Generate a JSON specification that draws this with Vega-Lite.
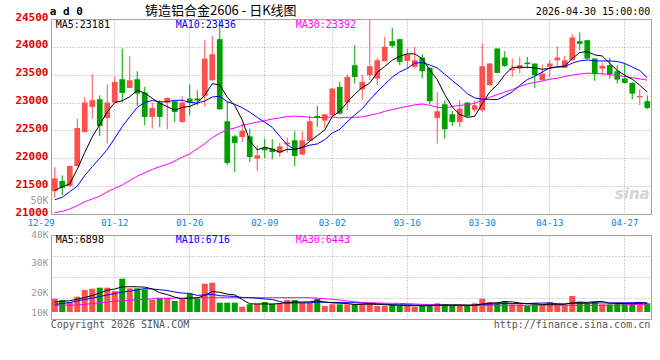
{
"$schema": "https://vega.github.io/schema/vega-lite/v6.json",
"background": "white",
"padding": {"left": 14, "top": 4, "right": 0, "bottom": 0},
"bounds": "flush",
"spacing": 21,
"config": {
  "view": {"stroke": "#a0a0a0", "strokeWidth": 1},
  "axis": {"domain": false, "ticks": false, "tickSize": 0, "title": null, "labelFont": "DejaVu Sans Mono", "gridColor": "#a8a8a8", "gridDash": [1, 2], "gridWidth": 1},
  "text": {"font": "DejaVu Sans Mono"}
},
"datasets": {
"k": [
{"d":"12-29","o":21410,"h":21840,"l":21290,"c":21640,"m5":21425,"m10":21255,"m30":21020,"v":10640,"vm5":8000,"vm10":6160,"vm30":5360},
{"d":"12-30","o":21593,"h":21694,"l":21335,"c":21473,"m5":21485,"m10":21300,"m30":21050,"v":9600,"vm5":8560,"vm10":6800,"vm30":5440},
{"d":"12-31","o":21503,"h":21870,"l":21490,"c":21862,"m5":21544,"m10":21400,"m30":21090,"v":8000,"vm5":9040,"vm10":7600,"vm30":5520},
{"d":"01-05","o":21862,"h":22712,"l":21850,"c":22545,"m5":21803,"m10":21500,"m30":21150,"v":12240,"vm5":10160,"vm10":8800,"vm30":5600},
{"d":"01-06","o":22473,"h":23101,"l":22460,"c":23000,"m5":22104,"m10":21690,"m30":21220,"v":17600,"vm5":11600,"vm10":10000,"vm30":6160},
{"d":"01-07","o":22922,"h":23503,"l":22712,"c":23042,"m5":22384,"m10":21850,"m30":21270,"v":18640,"vm5":13200,"vm10":11200,"vm30":6800},
{"d":"01-08","o":23060,"h":23131,"l":22401,"c":22581,"m5":22606,"m10":22000,"m30":21320,"v":19440,"vm5":15200,"vm10":12400,"vm30":7440},
{"d":"01-09","o":22724,"h":23329,"l":22263,"c":23000,"m5":22834,"m10":22160,"m30":21400,"v":19440,"vm5":17440,"vm10":13600,"vm30":8000},
{"d":"01-12","o":23000,"h":23461,"l":22990,"c":23371,"m5":22999,"m10":22360,"m30":21460,"v":16800,"vm5":18400,"vm10":14800,"vm30":8640},
{"d":"01-13","o":23419,"h":23970,"l":23000,"c":23173,"m5":23033,"m10":22569,"m30":21520,"v":26640,"vm5":20160,"vm10":15920,"vm30":8960},
{"d":"01-14","o":23263,"h":23832,"l":23260,"c":23401,"m5":23105,"m10":22745,"m30":21600,"v":18960,"vm5":20240,"vm10":16720,"vm30":9360},
{"d":"01-15","o":23419,"h":23563,"l":22940,"c":23161,"m5":23221,"m10":22914,"m30":21680,"v":18960,"vm5":20160,"vm10":17680,"vm30":9760},
{"d":"01-16","o":23179,"h":23281,"l":22592,"c":22742,"m5":23170,"m10":23002,"m30":21740,"v":18160,"vm5":19920,"vm10":18720,"vm30":10160},
{"d":"01-19","o":22742,"h":23000,"l":22532,"c":22904,"m5":23076,"m10":23038,"m30":21800,"v":9600,"vm5":18480,"vm10":18400,"vm30":10480},
{"d":"01-20","o":23000,"h":23042,"l":22562,"c":22742,"m5":22990,"m10":23012,"m30":21850,"v":11440,"vm5":15440,"vm10":17840,"vm30":10720},
{"d":"01-21","o":23000,"h":23090,"l":22521,"c":23084,"m5":22927,"m10":23016,"m30":21890,"v":11440,"vm5":13920,"vm10":17120,"vm30":10960},
{"d":"01-22","o":23024,"h":23030,"l":22652,"c":22832,"m5":22861,"m10":23041,"m30":21950,"v":8800,"vm5":11920,"vm10":16000,"vm30":11120},
{"d":"01-23","o":22652,"h":23113,"l":22640,"c":23000,"m5":22912,"m10":23041,"m30":22020,"v":10160,"vm5":10320,"vm10":15120,"vm30":11200},
{"d":"01-26","o":23072,"h":23323,"l":22772,"c":23000,"m5":22932,"m10":23004,"m30":22080,"v":14640,"vm5":11280,"vm10":14880,"vm30":11360},
{"d":"01-27","o":23072,"h":23221,"l":22952,"c":23036,"m5":22990,"m10":22990,"m30":22170,"v":10640,"vm5":11120,"vm10":13280,"vm30":11440},
{"d":"01-28","o":23114,"h":24120,"l":22922,"c":23790,"m5":23132,"m10":23029,"m30":22260,"v":22640,"vm5":13360,"vm10":13680,"vm30":11440},
{"d":"01-29","o":23401,"h":24198,"l":23390,"c":23868,"m5":23339,"m10":23100,"m30":22370,"v":23440,"vm5":16320,"vm10":14080,"vm30":11440},
{"d":"01-30","o":24138,"h":24480,"l":22870,"c":22880,"m5":23315,"m10":23114,"m30":22450,"v":7440,"vm5":15760,"vm10":13040,"vm30":11440},
{"d":"02-02","o":22664,"h":23012,"l":21880,"c":21916,"m5":23098,"m10":23015,"m30":22510,"v":7440,"vm5":14320,"vm10":12800,"vm30":11440},
{"d":"02-03","o":22395,"h":22420,"l":21754,"c":22275,"m5":22946,"m10":22968,"m30":22545,"v":7440,"vm5":13680,"vm10":12400,"vm30":11440},
{"d":"02-04","o":22383,"h":22622,"l":22293,"c":22491,"m5":22686,"m10":22909,"m30":22590,"v":4240,"vm5":10000,"vm10":11680,"vm30":11440},
{"d":"02-05","o":22395,"h":22533,"l":21933,"c":22023,"m5":22317,"m10":22828,"m30":22620,"v":6160,"vm5":6560,"vm10":11440,"vm30":11440},
{"d":"02-06","o":21993,"h":22233,"l":21772,"c":22053,"m5":22152,"m10":22733,"m30":22650,"v":6640,"vm5":6400,"vm10":11040,"vm30":11440},
{"d":"02-09","o":22191,"h":22353,"l":22005,"c":22143,"m5":22197,"m10":22648,"m30":22675,"v":8000,"vm5":6480,"vm10":10400,"vm30":11440},
{"d":"02-10","o":22173,"h":22341,"l":21982,"c":22113,"m5":22165,"m10":22555,"m30":22705,"v":6640,"vm5":6320,"vm10":10000,"vm30":11440},
{"d":"02-11","o":22101,"h":22275,"l":22023,"c":22215,"m5":22109,"m10":22398,"m30":22724,"v":6640,"vm5":6800,"vm10":8400,"vm30":11440},
{"d":"02-12","o":22250,"h":22371,"l":22101,"c":22280,"m5":22161,"m10":22239,"m30":22751,"v":9600,"vm5":7520,"vm10":7040,"vm30":11440},
{"d":"02-13","o":22323,"h":22485,"l":21862,"c":22041,"m5":22158,"m10":22155,"m30":22757,"v":9600,"vm5":8080,"vm10":7280,"vm30":11440},
{"d":"02-24","o":22065,"h":22485,"l":22060,"c":22323,"m5":22194,"m10":22196,"m30":22749,"v":7440,"vm5":8000,"vm10":7280,"vm30":11440},
{"d":"02-25","o":22311,"h":22760,"l":22300,"c":22664,"m5":22305,"m10":22235,"m30":22738,"v":7440,"vm5":8160,"vm10":7280,"vm30":11440},
{"d":"02-26","o":22760,"h":22940,"l":22562,"c":22724,"m5":22406,"m10":22258,"m30":22728,"v":10640,"vm5":8960,"vm10":7920,"vm30":11040},
{"d":"02-27","o":22676,"h":22795,"l":22550,"c":22790,"m5":22508,"m10":22335,"m30":22735,"v":4800,"vm5":8000,"vm10":7760,"vm30":10560},
{"d":"03-02","o":22772,"h":23263,"l":22742,"c":23251,"m5":22750,"m10":22454,"m30":22743,"v":6160,"vm5":7280,"vm10":7680,"vm30":10160},
{"d":"03-03","o":23281,"h":23371,"l":22784,"c":22802,"m5":22846,"m10":22520,"m30":22724,"v":6160,"vm5":7040,"vm10":7520,"vm30":9600},
{"d":"03-04","o":23000,"h":23503,"l":22862,"c":23461,"m5":23006,"m10":22655,"m30":22734,"v":6160,"vm5":6800,"vm10":7440,"vm30":8800},
{"d":"03-05","o":23671,"h":24030,"l":23341,"c":23461,"m5":23153,"m10":22780,"m30":22736,"v":6160,"vm5":5920,"vm10":7440,"vm30":8240},
{"d":"03-06","o":23239,"h":23503,"l":23054,"c":23371,"m5":23269,"m10":22889,"m30":22743,"v":6160,"vm5":6160,"vm10":7040,"vm30":7600},
{"d":"03-09","o":23491,"h":24479,"l":23401,"c":23653,"m5":23350,"m10":23050,"m30":22773,"v":6960,"vm5":6320,"vm10":6800,"vm30":7440},
{"d":"03-10","o":23431,"h":23802,"l":23311,"c":23760,"m5":23541,"m10":23194,"m30":22801,"v":4800,"vm5":6080,"vm10":6560,"vm30":7200},
{"d":"03-11","o":23742,"h":24180,"l":23740,"c":24000,"m5":23649,"m10":23327,"m30":22843,"v":4800,"vm5":5760,"vm10":6320,"vm30":7040},
{"d":"03-12","o":24102,"h":24341,"l":23982,"c":24018,"m5":23760,"m10":23457,"m30":22874,"v":5600,"vm5":5680,"vm10":5760,"vm30":6960},
{"d":"03-13","o":24138,"h":24140,"l":23671,"c":23730,"m5":23832,"m10":23551,"m30":22904,"v":4800,"vm5":5360,"vm10":5760,"vm30":6880},
{"d":"03-16","o":23748,"h":23970,"l":23611,"c":23862,"m5":23874,"m10":23612,"m30":22933,"v":5600,"vm5":5120,"vm10":5760,"vm30":6640},
{"d":"03-17","o":23641,"h":24000,"l":23611,"c":23760,"m5":23874,"m10":23708,"m30":22958,"v":4240,"vm5":5040,"vm10":5520,"vm30":6400},
{"d":"03-18","o":23808,"h":23868,"l":23431,"c":23563,"m5":23787,"m10":23718,"m30":22976,"v":4800,"vm5":5040,"vm10":5360,"vm30":6160},
{"d":"03-19","o":23623,"h":23630,"l":22964,"c":23024,"m5":23588,"m10":23674,"m30":22951,"v":5600,"vm5":5040,"vm10":5360,"vm30":6000},
{"d":"03-20","o":22724,"h":23191,"l":22263,"c":22844,"m5":23411,"m10":23621,"m30":22916,"v":6960,"vm5":5440,"vm10":5440,"vm30":5840},
{"d":"03-23","o":22970,"h":23042,"l":22353,"c":22521,"m5":23142,"m10":23508,"m30":22904,"v":6160,"vm5":5520,"vm10":5360,"vm30":5600},
{"d":"03-24","o":22790,"h":22850,"l":22580,"c":22652,"m5":22921,"m10":23397,"m30":22929,"v":4800,"vm5":5680,"vm10":5360,"vm30":5440},
{"d":"03-25","o":22652,"h":23042,"l":22562,"c":22892,"m5":22787,"m10":23287,"m30":22950,"v":4800,"vm5":5680,"vm10":5360,"vm30":5360},
{"d":"03-26","o":23000,"h":23010,"l":22742,"c":22760,"m5":22734,"m10":23161,"m30":22958,"v":4800,"vm5":5520,"vm10":5280,"vm30":5360},
{"d":"03-27","o":22870,"h":23042,"l":22832,"c":22950,"m5":22755,"m10":23083,"m30":22989,"v":6960,"vm5":5520,"vm10":5440,"vm30":5360},
{"d":"03-30","o":22862,"h":24060,"l":22832,"c":23653,"m5":22981,"m10":23062,"m30":23043,"v":10640,"vm5":6400,"vm10":6000,"vm30":5360},
{"d":"03-31","o":23311,"h":23705,"l":23305,"c":23701,"m5":23191,"m10":23056,"m30":23095,"v":8000,"vm5":7040,"vm10":6320,"vm30":5360},
{"d":"04-01","o":23970,"h":23975,"l":23530,"c":23533,"m5":23319,"m10":23053,"m30":23142,"v":6960,"vm5":7440,"vm10":6560,"vm30":5360},
{"d":"04-02","o":23808,"h":23922,"l":23641,"c":23659,"m5":23499,"m10":23117,"m30":23190,"v":8800,"vm5":8240,"vm10":6880,"vm30":5360},
{"d":"04-03","o":23581,"h":23790,"l":23461,"c":23611,"m5":23631,"m10":23193,"m30":23234,"v":6160,"vm5":8080,"vm10":6800,"vm30":5360},
{"d":"04-07","o":23611,"h":23820,"l":23521,"c":23671,"m5":23635,"m10":23308,"m30":23289,"v":6160,"vm5":7200,"vm10":6800,"vm30":5360},
{"d":"04-08","o":23718,"h":23820,"l":23611,"c":23689,"m5":23633,"m10":23412,"m30":23334,"v":4800,"vm5":6560,"vm10":6800,"vm30":5360},
{"d":"04-09","o":23700,"h":23705,"l":23263,"c":23491,"m5":23624,"m10":23472,"m30":23362,"v":6960,"vm5":6560,"vm10":7040,"vm30":5360},
{"d":"04-10","o":23401,"h":23683,"l":23395,"c":23521,"m5":23597,"m10":23548,"m30":23388,"v":5360,"vm5":5920,"vm10":7120,"vm30":5360},
{"d":"04-13","o":23641,"h":23760,"l":23461,"c":23700,"m5":23614,"m10":23623,"m30":23419,"v":8000,"vm5":6240,"vm10":7200,"vm30":5360},
{"d":"04-14","o":23760,"h":24012,"l":23659,"c":23808,"m5":23642,"m10":23638,"m30":23437,"v":5360,"vm5":6080,"vm10":6640,"vm30":5360},
{"d":"04-15","o":23623,"h":23838,"l":23620,"c":23760,"m5":23656,"m10":23644,"m30":23469,"v":5360,"vm5":6240,"vm10":6400,"vm30":5360},
{"d":"04-16","o":23760,"h":24228,"l":23755,"c":24168,"m5":23791,"m10":23708,"m30":23493,"v":12800,"vm5":7360,"vm10":6960,"vm30":5360},
{"d":"04-17","o":24102,"h":24258,"l":23940,"c":24054,"m5":23898,"m10":23747,"m30":23513,"v":8000,"vm5":7920,"vm10":6880,"vm30":5360},
{"d":"04-20","o":24120,"h":24125,"l":23772,"c":23790,"m5":23916,"m10":23765,"m30":23527,"v":6960,"vm5":7680,"vm10":6960,"vm30":5360},
{"d":"04-21","o":23790,"h":23795,"l":23389,"c":23509,"m5":23856,"m10":23749,"m30":23522,"v":8000,"vm5":8240,"vm10":7200,"vm30":5360},
{"d":"04-22","o":23611,"h":23713,"l":23491,"c":23659,"m5":23836,"m10":23746,"m30":23518,"v":6160,"vm5":8400,"vm10":7280,"vm30":5360},
{"d":"04-23","o":23671,"h":23808,"l":23431,"c":23509,"m5":23704,"m10":23748,"m30":23502,"v":6160,"vm5":7040,"vm10":7200,"vm30":5360},
{"d":"04-24","o":23563,"h":23671,"l":23341,"c":23413,"m5":23576,"m10":23737,"m30":23482,"v":6960,"vm5":6880,"vm10":7360,"vm30":5360},
{"d":"04-27","o":23431,"h":23701,"l":23341,"c":23353,"m5":23489,"m10":23702,"m30":23469,"v":6960,"vm5":6880,"vm10":7280,"vm30":5600},
{"d":"04-28","o":23353,"h":23371,"l":23054,"c":23161,"m5":23419,"m10":23638,"m30":23446,"v":6960,"vm5":6640,"vm10":7440,"vm30":6000},
{"d":"04-29","o":23096,"h":23239,"l":22952,"c":23120,"m5":23311,"m10":23574,"m30":23425,"v":8000,"vm5":7040,"vm10":7680,"vm30":6160},
{"d":"04-30","o":23024,"h":23131,"l":22880,"c":22904,"m5":23190,"m10":23447,"m30":23403,"v":6960,"vm5":7200,"vm10":7120,"vm30":6160}
]
},
"vconcat": [
{
  "width": 600,
  "height": 195,
  "data": {"name": "k"},
  "encoding": {
    "x": {"field": "d", "type": "ordinal", "sort": null,
      "scale": {"domain": ["12-29","12-30","12-31","01-05","01-06","01-07","01-08","01-09","01-12","01-13","01-14","01-15","01-16","01-19","01-20","01-21","01-22","01-23","01-26","01-27","01-28","01-29","01-30","02-02","02-03","02-04","02-05","02-06","02-09","02-10","02-11","02-12","02-13","02-24","02-25","02-26","02-27","03-02","03-03","03-04","03-05","03-06","03-09","03-10","03-11","03-12","03-13","03-16","03-17","03-18","03-19","03-20","03-23","03-24","03-25","03-26","03-27","03-30","03-31","04-01","04-02","04-03","04-07","04-08","04-09","04-10","04-13","04-14","04-15","04-16","04-17","04-20","04-21","04-22","04-23","04-24","04-27","04-28","04-29","04-30"], "paddingInner": 0, "paddingOuter": 0},
      "axis": {"values": ["12-29","01-12","01-26","02-09","03-02","03-16","03-30","04-13","04-27"], "labelAngle": 0, "labelFontSize": 9, "labelColor": "#1080e0", "labelPadding": 4, "labelOverlap": false,
        "labelAlign": {"condition": {"test": "datum.value == '12-29'", "value": "right"}, "value": "center"},
        "grid": true, "gridOpacity": {"condition": {"test": "datum.value == '12-29'", "value": 0}, "value": 1}}
    }
  },
  "layer": [
    {"mark": {"type": "rule", "strokeWidth": 1},
     "encoding": {
       "y": {"field": "l", "type": "quantitative", "scale": {"domain": [21000, 24500], "nice": false, "zero": false},
         "axis": {"values": [21000,21500,22000,22500,23000,23500,24000,24500], "format": "d", "orient": "left", "labelColor": "#e00000", "labelFontSize": 11, "labelFontWeight": "bold", "labelPadding": 3, "labelOffset": -2, "grid": true}},
       "y2": {"field": "h"},
       "color": {"condition": {"test": "datum.c >= datum.o", "value": "#ff5050"}, "value": "#00a000"}}},
    {"mark": {"type": "bar", "width": {"band": 0.76}},
     "encoding": {
       "y": {"field": "o", "type": "quantitative", "axis": null},
       "y2": {"field": "c"},
       "color": {"condition": {"test": "datum.c >= datum.o", "value": "#ff5050"}, "value": "#00a000"}}},
    {"mark": {"type": "line", "color": "#ff00ff", "strokeWidth": 1},
     "encoding": {"y": {"field": "m30", "type": "quantitative",
        "axis": {"values": [21235], "labelExpr": "'50K'", "orient": "left", "labelColor": "#999999", "labelFontSize": 10, "labelPadding": 3, "grid": false}},
       "order": {"value": null}}},
    {"mark": {"type": "line", "color": "#0000ff", "strokeWidth": 1},
     "encoding": {"y": {"field": "m10", "type": "quantitative", "axis": null}, "order": {"value": null}}},
    {"mark": {"type": "line", "color": "#000000", "strokeWidth": 1},
     "encoding": {"y": {"field": "m5", "type": "quantitative", "axis": null}, "order": {"value": null}}},
    {"data": {"values": [{"t": "MA5:23181", "d": "12-29", "p": 24394, "s": "MA5"}, {"t": "MA10:23436", "d": "01-22", "p": 24394, "s": "MA10"}, {"t": "MA30:23392", "d": "02-13", "p": 24394, "s": "MA30"}]},
     "mark": {"type": "text", "align": "left", "baseline": "middle", "dx": 1, "fontSize": 10},
     "encoding": {"y": {"field": "p", "type": "quantitative", "axis": null}, "text": {"field": "t"},
       "color": {"field": "s", "type": "nominal", "scale": {"domain": ["MA5", "MA10", "MA30"], "range": ["#000000", "#0000ff", "#ff00ff"]}, "legend": null}}},
    {"data": {"values": [{"t": "a d 0", "d": "12-29", "p": 24620}]},
     "mark": {"type": "text", "align": "left", "baseline": "middle", "dx": -5, "fontSize": 11, "fontWeight": "bold", "color": "#000000"},
     "encoding": {"y": {"field": "p", "type": "quantitative", "axis": null}, "text": {"field": "t"}}},
    {"data": {"values": [{"t": "铸造铝合金2606 - 日K线图", "d": "01-30", "p": 24640}]},
     "mark": {"type": "text", "align": "center", "baseline": "middle", "dx": 1, "fontSize": 13, "font": "Noto Sans CJK SC", "color": "#000000"},
     "encoding": {"y": {"field": "p", "type": "quantitative", "axis": null}, "text": {"field": "t"}}},
    {"data": {"values": [{"t": "2026-04-30 15:00:00", "d": "04-30", "p": 24620}]},
     "mark": {"type": "text", "align": "right", "baseline": "middle", "dx": 3, "fontSize": 10, "color": "#000000"},
     "encoding": {"y": {"field": "p", "type": "quantitative", "axis": null}, "text": {"field": "t"}}},
    {"data": {"values": [{"t": "sina", "d": "04-28", "p": 21360}]},
     "mark": {"type": "text", "align": "center", "baseline": "middle", "fontSize": 15, "fontStyle": "italic", "fontWeight": "bold", "font": "DejaVu Sans", "color": "#d4d4d4"},
     "encoding": {"y": {"field": "p", "type": "quantitative", "axis": null}, "text": {"field": "t"}}}
  ],
  "resolve": {"axis": {"y": "independent"}}
},
{
  "width": 600,
  "height": 84,
  "data": {"name": "k"},
  "encoding": {
    "x": {"field": "d", "type": "ordinal", "sort": null,
      "scale": {"domain": ["12-29","12-30","12-31","01-05","01-06","01-07","01-08","01-09","01-12","01-13","01-14","01-15","01-16","01-19","01-20","01-21","01-22","01-23","01-26","01-27","01-28","01-29","01-30","02-02","02-03","02-04","02-05","02-06","02-09","02-10","02-11","02-12","02-13","02-24","02-25","02-26","02-27","03-02","03-03","03-04","03-05","03-06","03-09","03-10","03-11","03-12","03-13","03-16","03-17","03-18","03-19","03-20","03-23","03-24","03-25","03-26","03-27","03-30","03-31","04-01","04-02","04-03","04-07","04-08","04-09","04-10","04-13","04-14","04-15","04-16","04-17","04-20","04-21","04-22","04-23","04-24","04-27","04-28","04-29","04-30"], "paddingInner": 0, "paddingOuter": 0},
      "axis": {"values": ["01-12","01-26","02-09","03-02","03-16","03-30","04-13","04-27"], "labels": false, "grid": true}
    }
  },
  "layer": [
    {"mark": {"type": "bar", "width": {"band": 0.8}},
     "encoding": {
       "y": {"field": "v", "type": "quantitative", "scale": {"domain": [-5600, 61600], "nice": false, "zero": false},
         "axis": {"values": [1600, 17600, 41600, 61600], "labelExpr": "datum.value == 1600 ? '10K' : datum.value == 17600 ? '20K' : datum.value == 41600 ? '30K' : '40K'", "orient": "left", "labelColor": "#999999", "labelFontSize": 9.5, "labelPadding": 3, "labelOffset": 2, "grid": false,
           "labelBaseline": {"condition": {"test": "datum.value == 61600", "value": "alphabetic"}, "value": "middle"}}},
       "y2": {"datum": 0},
       "color": {"condition": {"test": "datum.c >= datum.o", "value": "#ff5050"}, "value": "#00a000"}}},
    {"mark": {"type": "line", "color": "#ff00ff", "strokeWidth": 1},
     "encoding": {"y": {"field": "vm30", "type": "quantitative",
        "axis": {"values": [11200, 28000, 44800], "labels": false, "orient": "left", "grid": true}},
       "order": {"value": null}}},
    {"mark": {"type": "line", "color": "#0000ff", "strokeWidth": 1},
     "encoding": {"y": {"field": "vm10", "type": "quantitative", "axis": null}, "order": {"value": null}}},
    {"mark": {"type": "line", "color": "#000000", "strokeWidth": 1},
     "encoding": {"y": {"field": "vm5", "type": "quantitative", "axis": null}, "order": {"value": null}}},
    {"data": {"values": [{"t": "MA5:6898", "d": "12-29", "p": 57840, "s": "MA5"}, {"t": "MA10:6716", "d": "01-22", "p": 57840, "s": "MA10"}, {"t": "MA30:6443", "d": "02-13", "p": 57840, "s": "MA30"}]},
     "mark": {"type": "text", "align": "left", "baseline": "middle", "dx": 1, "fontSize": 10},
     "encoding": {"y": {"field": "p", "type": "quantitative", "axis": null}, "text": {"field": "t"},
       "color": {"field": "s", "type": "nominal", "scale": {"domain": ["MA5", "MA10", "MA30"], "range": ["#000000", "#0000ff", "#ff00ff"]}, "legend": null}}},
    {"data": {"values": [{"t": "Copyright 2026 SINA.COM", "d": "12-29", "p": -10400}]},
     "mark": {"type": "text", "align": "left", "baseline": "middle", "dx": -4, "fontSize": 10, "color": "#555555"},
     "encoding": {"y": {"field": "p", "type": "quantitative", "axis": null}, "text": {"field": "t"}}},
    {"data": {"values": [{"t": "http://finance.sina.com.cn", "d": "04-30", "p": -10400}]},
     "mark": {"type": "text", "align": "right", "baseline": "middle", "dx": 3, "fontSize": 10, "color": "#555555"},
     "encoding": {"y": {"field": "p", "type": "quantitative", "axis": null}, "text": {"field": "t"}}}
  ],
  "resolve": {"axis": {"y": "independent"}}
}
]
}
